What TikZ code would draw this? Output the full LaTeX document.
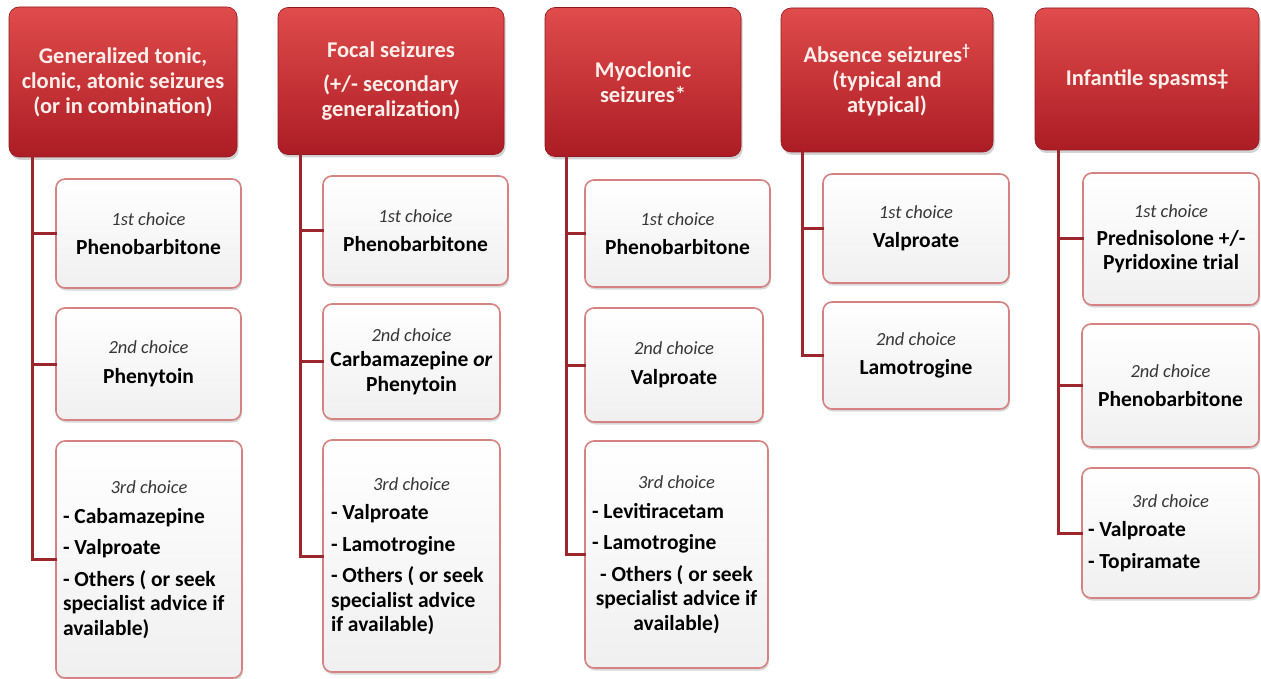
\documentclass[tikz,border=0pt]{standalone}
\usepackage{fontspec}
\setmainfont{Carlito}
\usetikzlibrary{shadows}
\definecolor{hdrtop}{RGB}{224,76,76}
\definecolor{hdrbot}{RGB}{172,28,36}
\definecolor{hdrtxt}{RGB}{255,238,234}
\definecolor{boxedge}{RGB}{214,130,130}
\definecolor{trunkc}{RGB}{156,38,44}
\definecolor{choicec}{RGB}{55,55,55}
\newcommand\chlabel[1]{{\fontsize{18.5}{21}\selectfont\mdseries\itshape\color{choicec}#1}}
\tikzset{
  hdr/.style={draw=hdrbot!85!black, line width=0.6pt, rounded corners=10pt,
    top color=hdrtop, bottom color=hdrbot, text=hdrtxt,
    font=\fontsize{22.5}{25}\selectfont\bfseries, align=center, inner sep=0pt,
    drop shadow={shadow xshift=1.5pt, shadow yshift=-3pt, opacity=0.35}},
  chbox/.style={draw=boxedge, line width=1.6pt, rounded corners=9pt,
    top color=white, bottom color=black!6, text=black,
    font=\fontsize{21.5}{24.5}\selectfont\bfseries, align=flush center, inner sep=0pt,
    drop shadow={shadow xshift=1pt, shadow yshift=-2.5pt, opacity=0.3}},
  trunk/.style={draw=trunkc, line width=3pt, line cap=rect},
  sz/.style 2 args={minimum width=#1pt, minimum height=#2pt},
}
\begin{document}
\begin{tikzpicture}[x=1pt,y=-1pt]
\useasboundingbox[fill=white] (0,0) rectangle (1261,679);
% headers
\node[hdr, sz={228}{150}] (H1) at (123,82) {Generalized tonic,\\ clonic, atonic seizures\\ (or in combination)};
\node[hdr, sz={226}{147}] (H2) at (391,81) {Focal seizures\\[9pt] (+/- secondary\\ generalization)};
\node[hdr, sz={196}{149}] (H3) at (643,82) {Myoclonic\\ seizures*};
\node[hdr, sz={212}{144}] (H4) at (887,80) {Absence seizures\textsuperscript{†}\\ (typical and\\ atypical)};
\node[hdr, sz={224}{142}] (H5) at (1147,79) {Infantile spasms‡};
% column 1
\node[chbox, sz={185}{109}] (B11) at (148.5,233.5) {\chlabel{1st choice}\\[5pt] Phenobarbitone};
\node[chbox, sz={185}{112}] (B12) at (148.5,364) {\chlabel{2nd choice}\\[5pt] Phenytoin};
\node[chbox, sz={186}{237}, text width=172pt] (B13) at (149,559.5) {\chlabel{3rd choice}\par\vspace{5pt}
  {\raggedright - Cabamazepine\par\vspace{7pt}- Valproate\par\vspace{7pt}- Others ( or seek\\ specialist advice if\\ available)\par}};
% column 2
\node[chbox, sz={185}{109}] (B21) at (415.5,230.5) {\chlabel{1st choice}\\[5pt] Phenobarbitone};
\node[chbox, sz={177}{115}] (B22) at (411.5,361.5) {\chlabel{2nd choice}\\[1pt] Carbamazepine \textit{or}\\ Phenytoin};
\node[chbox, sz={177}{232}, text width=161pt] (B23) at (411.5,556) {\chlabel{3rd choice}\par\vspace{5pt}
  {\raggedright - Valproate\par\vspace{7pt}- Lamotrogine\par\vspace{7pt}- Others ( or seek\\ specialist advice\\ if available)\par}};
% column 3
\node[chbox, sz={185}{107}] (B31) at (677.5,233.5) {\chlabel{1st choice}\\[5pt] Phenobarbitone};
\node[chbox, sz={178}{114}] (B32) at (674,365) {\chlabel{2nd choice}\\[5pt] Valproate};
\node[chbox, sz={183}{227}, text width=169pt] (B33) at (676.5,554.5) {\chlabel{3rd choice}\par\vspace{5pt}
  {\raggedright - Levitiracetam\par\vspace{7pt}- Lamotrogine\par}\vspace{7pt}- Others ( or seek\\ specialist advice if\\ available)\par};
% column 4
\node[chbox, sz={186}{109}] (B41) at (916,228.5) {\chlabel{1st choice}\\[5pt] Valproate};
\node[chbox, sz={186}{107}] (B42) at (916,355.5) {\chlabel{2nd choice}\\[5pt] Lamotrogine};
% column 5
\node[chbox, sz={176}{132}] (B51) at (1171,239) {\chlabel{1st choice}\\[3pt] Prednisolone +/-\\ Pyridoxine trial};
\node[chbox, sz={177}{123}] (B52) at (1170.5,385.5) {\chlabel{2nd choice}\\[5pt] Phenobarbitone};
\node[chbox, sz={177}{130}, text width=165pt] (B53) at (1170.5,533) {\chlabel{3rd choice}\par\vspace{5pt}
  {\raggedright - Valproate\par\vspace{7pt}- Topiramate\par}};
% connectors
\foreach \b in {B11,B12,B13} \draw[trunk] ([xshift=24pt]H1.south west) |- (\b.west);
\foreach \b in {B21,B22,B23} \draw[trunk] ([xshift=23pt]H2.south west) |- (\b.west);
\foreach \b in {B31,B32,B33} \draw[trunk] ([xshift=22pt]H3.south west) |- (\b.west);
\foreach \b in {B41,B42} \draw[trunk] ([xshift=22pt]H4.south west) |- (\b.west);
\foreach \b in {B51,B52,B53} \draw[trunk] ([xshift=24pt]H5.south west) |- (\b.west);
\end{tikzpicture}
\end{document}
